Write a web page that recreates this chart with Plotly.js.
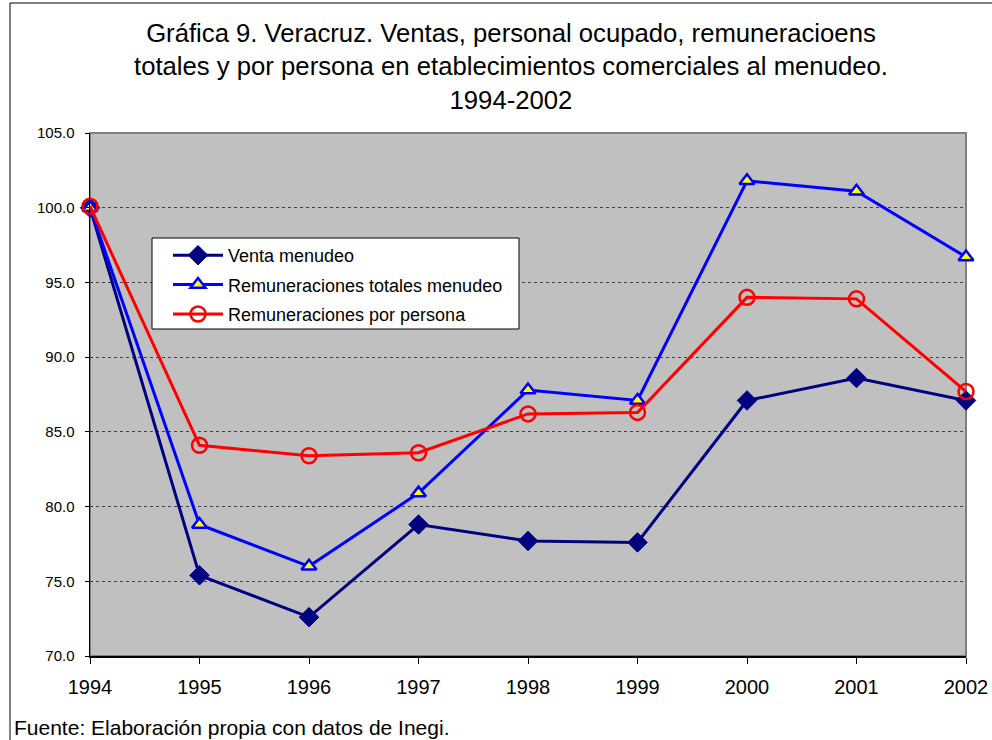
<!DOCTYPE html>
<html>
<head>
<meta charset="utf-8">
<script src="https://cdn.plot.ly/plotly-3.0.1.min.js"></script>
<style>body{margin:0;padding:0;background:#fff}#chart{width:992px;height:740px}</style>
</head>
<body>
<div id="chart"></div>
<script>
const years = [1994, 1995, 1996, 1997, 1998, 1999, 2000, 2001, 2002];
const ventaMenudeo = [100.0, 75.4, 72.6, 78.8, 77.7, 77.6, 87.1, 88.6, 87.1];
const remTotales = [100.0, 78.8, 76.0, 80.9, 87.8, 87.1, 101.8, 101.1, 96.7];
const remPersona = [100.1, 84.1, 83.4, 83.6, 86.2, 86.3, 94.0, 93.9, 87.7];
const yTicks = [70, 75, 80, 85, 90, 95, 100, 105];
const titleText = 'Gráfica 9. Veracruz. Ventas, personal ocupado, remuneracioens<br>totales y por persona en etablecimientos comerciales al menudeo.<br>1994-2002';
const sourceText = 'Fuente: Elaboración propia con datos de Inegi.';

const FONT = 'Liberation Sans, Arial, sans-serif';

const traces = [
  {x: years, y: ventaMenudeo, name: 'Venta menudeo', legendgroup: 'a', mode: 'lines+markers', cliponaxis: false,
   line: {color: '#000080', width: 3},
   marker: {symbol: 'diamond', size: 15, color: '#000080', line: {color: '#000080', width: 1}}},
  {x: years, y: remTotales, name: 'Remuneraciones totales menudeo', legendgroup: 'b', mode: 'lines+markers', cliponaxis: false,
   line: {color: '#0000FF', width: 3},
   marker: {symbol: 'triangle-up', size: 13, color: '#FFFF00', line: {color: '#0000FF', width: 2.5}}},
  {x: years, y: remPersona, name: 'Remuneraciones por persona', legendgroup: 'c', mode: 'lines+markers', cliponaxis: false,
   line: {color: '#FF0000', width: 3},
   marker: {symbol: 'circle-open', size: 15, color: '#FF0000', line: {color: '#FF0000', width: 2.5}}}
];

const px = v => (v - 90) / 876;      // pixel x -> paper
const py = v => (656 - v) / 523;     // pixel y -> paper

const layout = {
  width: 992, height: 740,
  margin: {l: 90, r: 26, t: 133, b: 84},
  paper_bgcolor: '#ffffff', plot_bgcolor: '#c0c0c0',
  font: {family: FONT, color: '#000'},
  showlegend: true,
  legend: {x: px(168), y: py(237), xanchor: 'left', yanchor: 'top', bgcolor: 'rgba(0,0,0,0)',
           borderwidth: 0, font: {size: 18, family: FONT}, tracegroupgap: 3, itemwidth: 50},
  xaxis: {range: [1994, 2002], tickvals: years, ticktext: years.map(String), showgrid: false,
          zeroline: false, showline: true, linecolor: '#000', linewidth: 1.5,
          ticks: 'outside', ticklen: 6, tickcolor: '#000', tickfont: {size: 20, family: FONT},
          ticklabelstandoff: 6},
  yaxis: {range: [70, 105], tickvals: yTicks, ticktext: yTicks.map(v => v.toFixed(1)),
          showgrid: true, gridcolor: '#404040', griddash: 'dot', gridwidth: 1,
          zeroline: false, showline: true, linecolor: '#000', linewidth: 1.5,
          ticks: 'outside', ticklen: 4, tickcolor: '#000', tickfont: {size: 15, family: FONT},
          ticklabelstandoff: 7},
  shapes: [
    {type: 'rect', xref: 'paper', yref: 'paper', x0: 0, x1: 1, y0: 0, y1: 1,
     line: {color: '#808080', width: 2}, layer: 'below'},
    {type: 'rect', xref: 'paper', yref: 'paper', x0: px(152), x1: px(519), y0: py(329), y1: py(238),
     fillcolor: '#ffffff', line: {color: '#000', width: 1}, layer: 'above'},
    {type: 'rect', xref: 'paper', yref: 'paper', x0: px(10), x1: px(1010), y0: py(760), y1: py(3),
     line: {color: '#000', width: 1}, layer: 'below'}
  ],
  annotations: [
    {text: titleText, xref: 'paper', yref: 'paper', x: px(511), y: py(66), xanchor: 'center', yanchor: 'middle',
     showarrow: false, font: {size: 25.7, family: FONT}, align: 'center'},
    {text: sourceText, xref: 'paper', yref: 'paper',
     x: px(12), y: py(727), xanchor: 'left', yanchor: 'middle', showarrow: false, font: {size: 21, family: FONT}}
  ]
};

Plotly.newPlot('chart', traces, layout, {displayModeBar: false, staticPlot: true});
</script>
</body>
</html>
